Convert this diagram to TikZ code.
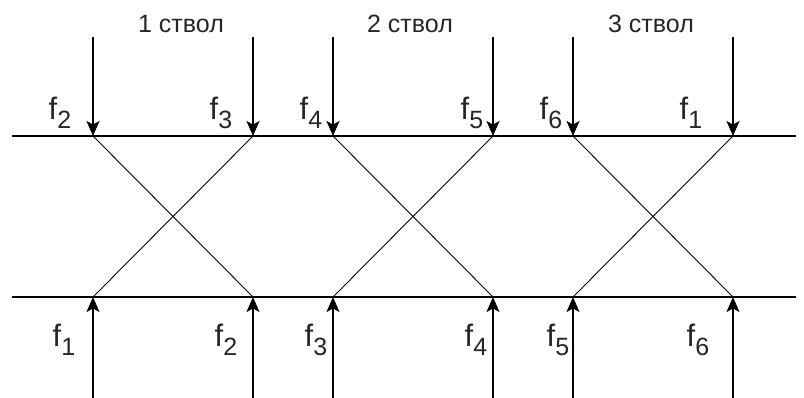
\documentclass[tikz,border=0pt]{standalone}
\usepackage{fontspec}
\setmainfont{Liberation Sans}
\usetikzlibrary{arrows.meta}
\newcommand{\flab}[1]{{\fontsize{31}{31}\selectfont f\raisebox{-8.5pt}{\fontsize{25}{25}\selectfont #1}}}
\begin{document}
\begin{tikzpicture}[x=1pt,y=-1pt,
  hline/.style={line width=1.6pt},
  feed/.style={line width=1.6pt,-{Stealth[length=15pt,width=13pt,inset=3.5pt]}},
  cross/.style={line width=0.9pt},
  title/.style={anchor=base,inner sep=0pt,font=\fontsize{25}{25}\selectfont,text=black!85},
  flabel/.style={anchor=base,inner sep=0pt,text=black!85}]
\useasboundingbox (0,0) rectangle (804,398);
% top and bottom lines
\coordinate (tl) at (12,136);
\coordinate (tr) at (796,136);
\coordinate (bl) at (12,297);
\coordinate (br) at (796,297);
\draw[hline] (tl) -- (tr);
\draw[hline] (bl) -- (br);
% arrow points
\foreach \i/\x in {1/93,2/253,3/333,4/493,5/573,6/733}{
  \coordinate (t\i) at (\x,136);
  \coordinate (ts\i) at (\x,37);
  \coordinate (b\i) at (\x,297);
  \coordinate (bs\i) at (\x,398);
  \draw[feed] (ts\i) -- (t\i);
  \draw[feed] (bs\i) -- (b\i);
}
% crossings
\draw[cross] (t1) -- (b2);
\draw[cross] (t2) -- (b1);
\draw[cross] (t3) -- (b4);
\draw[cross] (t4) -- (b3);
\draw[cross] (t5) -- (b6);
\draw[cross] (t6) -- (b5);
% titles
\node[title] (s1) at (181,33) {1 ствол};
\node[title] (s2) at (410,33) {2 ствол};
\node[title] (s3) at (651,33) {3 ствол};
% top labels
\node[flabel] (lt1) at (60,120) {\flab{2}};
\node[flabel] (lt2) at (221,120) {\flab{3}};
\node[flabel] (lt3) at (311,120) {\flab{4}};
\node[flabel] (lt4) at (472,120) {\flab{5}};
\node[flabel] (lt5) at (551,120) {\flab{6}};
\node[flabel] (lt6) at (691,120) {\flab{1}};
% bottom labels
\node[flabel] (lb1) at (64,347) {\flab{1}};
\node[flabel] (lb2) at (226,347) {\flab{2}};
\node[flabel] (lb3) at (316,347) {\flab{3}};
\node[flabel] (lb4) at (476,347) {\flab{4}};
\node[flabel] (lb5) at (558,347) {\flab{5}};
\node[flabel] (lb6) at (698,347) {\flab{6}};
\end{tikzpicture}
\end{document}
